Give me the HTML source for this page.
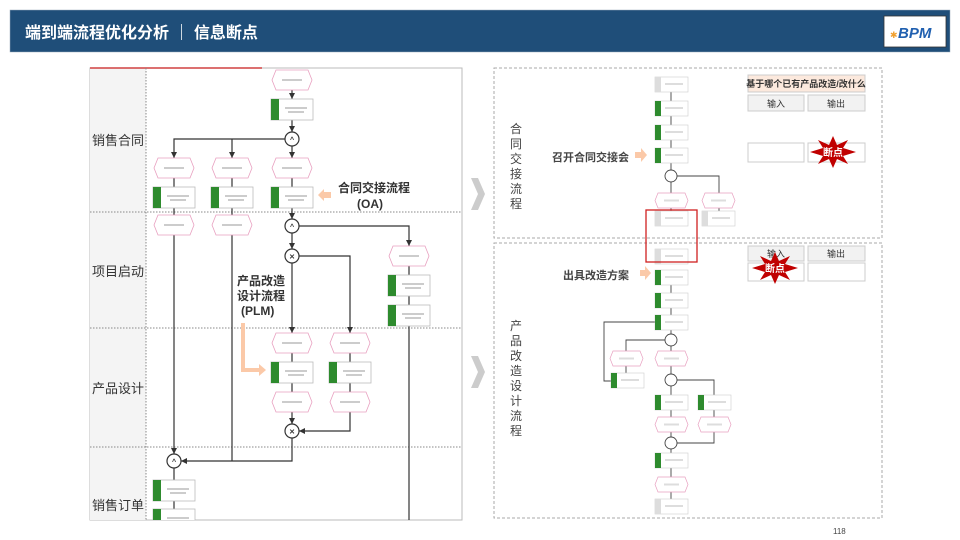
<!DOCTYPE html>
<html><head><meta charset="utf-8"><style>
body{margin:0;background:#fff;}
svg{display:block;font-family:"Liberation Sans","Noto Sans CJK SC",sans-serif;}
</style></head><body>
<svg width="960" height="540" viewBox="0 0 960 540" xmlns="http://www.w3.org/2000/svg">
<defs>
<marker id="a" markerWidth="6" markerHeight="6" refX="5" refY="3" orient="auto"><path d="M0,0.5 L5,3 L0,5.5z" fill="#333"/></marker>
<clipPath id="lc"><rect x="90" y="68" width="372" height="452"/></clipPath>
<g id="hx"><path d="M4,0 H36 L40,10 L36,20 H4 L0,10z" fill="#fff" stroke="#e8a0c0" stroke-width="0.8"/><rect x="10" y="9" width="20" height="2" fill="#ccc"/></g>
<g id="tk"><rect x="0" y="0" width="42" height="21" fill="#fff" stroke="#bbb" stroke-width="0.8"/><rect x="0" y="0" width="8" height="21" fill="#2e8b2e"/><rect x="14" y="8" width="22" height="2" fill="#ccc"/><rect x="17" y="12" width="16" height="2" fill="#ccc"/></g>
<g id="tk2"><rect x="0" y="0" width="33" height="15" fill="#fff" stroke="#ccc" stroke-width="0.6"/><rect x="0" y="0" width="6" height="15" fill="#2e8b2e"/><rect x="10" y="6" width="18" height="2" fill="#ddd"/></g>
<g id="tg"><rect x="0" y="0" width="33" height="15" fill="#fff" stroke="#ccc" stroke-width="0.6"/><rect x="0" y="0" width="6" height="15" fill="#ddd"/><rect x="10" y="6" width="18" height="2" fill="#ddd"/></g>
<g id="hs"><path d="M3,0 H30 L33,7.5 L30,15 H3 L0,7.5z" fill="#fff" stroke="#e8a0c0" stroke-width="0.7"/><rect x="9" y="6.5" width="15" height="2" fill="#ddd"/></g>
</defs>

<!-- header -->
<rect x="10" y="10" width="940" height="42" fill="#1f4e79" stroke="#9ab" stroke-width="0.5"/>
<text x="25" y="38" fill="#fff" font-size="16" font-weight="bold">端到端流程优化分析  ｜ 信息断点</text>
<rect x="884" y="16" width="62" height="31" fill="#fff" stroke="#333" stroke-width="0.8"/>
<text x="890" y="38" font-size="9" fill="#f0a030">✱</text>
<text x="898" y="38" font-size="15" font-weight="bold" font-style="italic" fill="#2060b0">BPM</text>

<!-- left diagram -->
<rect x="90" y="68" width="372" height="452" fill="#fff" stroke="#bbb"/>
<rect x="90" y="68" width="56" height="452" fill="#f4f4f4"/>
<line x1="90" y1="68" x2="262" y2="68" stroke="#d04040" stroke-width="1.5"/>
<line x1="146" y1="68" x2="146" y2="520" stroke="#888" stroke-dasharray="1.5,1.5"/>
<g stroke="#888" stroke-dasharray="1.5,1.5"><line x1="90" y1="212" x2="462" y2="212"/><line x1="90" y1="328" x2="462" y2="328"/><line x1="90" y1="447" x2="462" y2="447"/></g>
<g font-size="13" fill="#333"><text x="92" y="145">销售合同</text><text x="92" y="276">项目启动</text><text x="92" y="393">产品设计</text><text x="92" y="510">销售订单</text></g>

<g clip-path="url(#lc)">
<g stroke="#333" stroke-width="1.2" fill="none">
<line x1="292" y1="90" x2="292" y2="99" marker-end="url(#a)"/>
<line x1="292" y1="120" x2="292" y2="132" marker-end="url(#a)"/>
<path d="M285,139 H174 V158" marker-end="url(#a)"/>
<path d="M232,139 V158" marker-end="url(#a)"/>
<line x1="292" y1="146" x2="292" y2="158" marker-end="url(#a)"/>
<line x1="174" y1="178" x2="174" y2="187"/><line x1="232" y1="178" x2="232" y2="187"/><line x1="292" y1="178" x2="292" y2="187"/>
<line x1="174" y1="207" x2="174" y2="215"/><line x1="232" y1="207" x2="232" y2="215"/><line x1="292" y1="207" x2="292" y2="219" marker-end="url(#a)"/>
<path d="M299,226 H409 V246" marker-end="url(#a)"/>
<line x1="292" y1="233" x2="292" y2="249" marker-end="url(#a)"/>
<path d="M299,256 H350 V333" marker-end="url(#a)"/>
<line x1="292" y1="263" x2="292" y2="333" marker-end="url(#a)"/>
<line x1="409" y1="266" x2="409" y2="275"/><line x1="409" y1="295" x2="409" y2="305"/><line x1="409" y1="325" x2="409" y2="520"/>
<line x1="292" y1="353" x2="292" y2="362"/><line x1="350" y1="353" x2="350" y2="362"/>
<line x1="292" y1="383" x2="292" y2="392"/><line x1="350" y1="383" x2="350" y2="392"/>
<line x1="292" y1="412" x2="292" y2="424" marker-end="url(#a)"/>
<path d="M350,412 V431 H299" marker-end="url(#a)"/>
<path d="M292,438 V461 H181" marker-end="url(#a)"/>
<line x1="232" y1="235" x2="232" y2="461"/>
<line x1="174" y1="235" x2="174" y2="454" marker-end="url(#a)"/>
<line x1="174" y1="468" x2="174" y2="480"/><line x1="174" y1="500" x2="174" y2="509"/>
</g>
<use href="#hx" x="272" y="70"/><use href="#tk" x="271" y="99"/>
<use href="#hx" x="154" y="158"/><use href="#hx" x="212" y="158"/><use href="#hx" x="272" y="158"/>
<use href="#tk" x="153" y="187"/><use href="#tk" x="211" y="187"/><use href="#tk" x="271" y="187"/>
<use href="#hx" x="154" y="215"/><use href="#hx" x="212" y="215"/>
<use href="#hx" x="389" y="246"/><use href="#tk" x="388" y="275"/><use href="#tk" x="388" y="305"/>
<use href="#hx" x="272" y="333"/><use href="#hx" x="330" y="333"/>
<use href="#tk" x="271" y="362"/><use href="#tk" x="329" y="362"/>
<use href="#hx" x="272" y="392"/><use href="#hx" x="330" y="392"/>
<use href="#tk" x="153" y="480"/><use href="#tk" x="153" y="509"/>
</g>
<g fill="#fff" stroke="#333" stroke-width="1.2">
<circle cx="292" cy="139" r="7"/><circle cx="292" cy="226" r="7"/><circle cx="292" cy="256" r="7"/><circle cx="292" cy="431" r="7"/><circle cx="174" cy="461" r="7"/></g>
<g font-size="7" font-weight="bold" fill="#333" text-anchor="middle"><text x="292" y="142">^</text><text x="292" y="229">^</text><text x="292" y="259">✕</text><text x="292" y="434">✕</text><text x="174" y="464">^</text></g>
<path d="M318,195 L324,189 V192 H331 V198 H324 V201z" fill="#fbc9a8"/>
<text x="338" y="192" font-size="12" font-weight="bold" fill="#333">合同交接流程</text>
<text x="357" y="208" font-size="12" font-weight="bold" fill="#333">(OA)</text>
<text x="237" y="285" font-size="12" font-weight="bold" fill="#333">产品改造</text>
<text x="237" y="300" font-size="12" font-weight="bold" fill="#333">设计流程</text>
<text x="241" y="315" font-size="12" font-weight="bold" fill="#333">(PLM)</text>
<path d="M243,323 V370 H260" stroke="#fbc9a8" stroke-width="4" fill="none"/><path d="M259,364 L266,370 L259,376z" fill="#fbc9a8"/>

<!-- chevrons -->
<path d="M471,178 L478,178 L485,194 L478,210 L471,210 L478,194z" fill="#ccc"/>
<path d="M471,356 L478,356 L485,372 L478,388 L471,388 L478,372z" fill="#ccc"/>

<!-- right -->
<g fill="none" stroke="#aaa" stroke-dasharray="3,2"><rect x="494" y="68" width="388" height="170"/><rect x="494" y="243" width="388" height="275"/></g>
<g font-size="12" fill="#444" text-anchor="middle">
<text x="516" y="133">合</text><text x="516" y="148">同</text><text x="516" y="163">交</text><text x="516" y="178">接</text><text x="516" y="193">流</text><text x="516" y="208">程</text>
<text x="516" y="330">产</text><text x="516" y="345">品</text><text x="516" y="360">改</text><text x="516" y="375">造</text><text x="516" y="390">设</text><text x="516" y="405">计</text><text x="516" y="420">流</text><text x="516" y="435">程</text></g>
<text x="552" y="161" font-size="11" font-weight="bold" fill="#444">召开合同交接会</text>
<path d="M635,155 L635,152 H641 V148 L647,155 L641,162 V158 H635z" fill="#fbc9a8"/>
<text x="563" y="279" font-size="11" font-weight="bold" fill="#444">出具改造方案</text>
<path d="M640,273 L640,270 H645 V266 L651,273 L645,280 V276 H640z" fill="#fbc9a8"/>

<g stroke="#444" stroke-width="0.9" fill="none">
<line x1="671" y1="91" x2="671" y2="101"/><line x1="671" y1="115" x2="671" y2="125"/><line x1="671" y1="139" x2="671" y2="148"/><line x1="671" y1="162" x2="671" y2="170"/>
<path d="M677,176 H719 V193"/><line x1="671" y1="182" x2="671" y2="193"/>
<line x1="671" y1="203" x2="671" y2="211"/><line x1="719" y1="203" x2="719" y2="211"/>
<line x1="671" y1="284" x2="671" y2="293"/><line x1="671" y1="307" x2="671" y2="315"/><line x1="671" y1="330" x2="671" y2="334"/>
<path d="M665,340 H626 V351"/><line x1="671" y1="346" x2="671" y2="351"/>
<line x1="626" y1="366" x2="626" y2="373"/><path d="M611,381 H604 V322 H655"/>
<line x1="671" y1="366" x2="671" y2="374"/>
<path d="M677,380 H714 V395"/><line x1="671" y1="386" x2="671" y2="395"/>
<line x1="671" y1="410" x2="671" y2="417"/><line x1="714" y1="410" x2="714" y2="417"/>
<line x1="671" y1="432" x2="671" y2="437"/><path d="M714,432 V443 H677"/>
<line x1="671" y1="449" x2="671" y2="453"/><line x1="671" y1="468" x2="671" y2="477"/><line x1="671" y1="492" x2="671" y2="499"/>
</g>
<use href="#tg" x="655" y="77"/><use href="#tk2" x="655" y="101"/><use href="#tk2" x="655" y="125"/><use href="#tk2" x="655" y="148"/>
<use href="#hs" x="655" y="193"/><use href="#hs" x="702" y="193"/>
<use href="#tg" x="655" y="211"/><use href="#tg" x="702" y="211"/>
<use href="#tg" x="655" y="249"/>
<use href="#tk2" x="655" y="270"/><use href="#tk2" x="655" y="293"/><use href="#tk2" x="655" y="315"/>
<use href="#hs" x="610" y="351"/><use href="#hs" x="655" y="351"/>
<use href="#tk2" x="611" y="373"/>
<use href="#tk2" x="655" y="395"/><use href="#tk2" x="698" y="395"/>
<use href="#hs" x="655" y="417"/><use href="#hs" x="698" y="417"/>
<use href="#tk2" x="655" y="453"/><use href="#hs" x="655" y="477"/><use href="#tg" x="655" y="499"/>
<g fill="#fff" stroke="#444" stroke-width="0.9"><circle cx="671" cy="176" r="6"/><circle cx="671" cy="340" r="6"/><circle cx="671" cy="380" r="6"/><circle cx="671" cy="443" r="6"/></g>
<rect x="646" y="210" width="51" height="52" fill="none" stroke="#d02020" stroke-width="1.3"/>

<rect x="748" y="75" width="117" height="17" fill="#fce9dd" stroke="#ccc"/>
<text x="806" y="87" font-size="9" font-weight="bold" fill="#333" text-anchor="middle">基于哪个已有产品改造/改什么</text>
<g fill="#f2f2f2" stroke="#ccc"><rect x="748" y="95" width="56" height="16"/><rect x="808" y="95" width="57" height="16"/><rect x="748" y="246" width="56" height="15"/><rect x="808" y="246" width="57" height="15"/></g>
<g font-size="9" fill="#333" text-anchor="middle"><text x="776" y="107">输入</text><text x="836" y="107">输出</text><text x="776" y="257">输入</text><text x="836" y="257">输出</text></g>
<g fill="#fff" stroke="#ccc"><rect x="748" y="143" width="56" height="19"/><rect x="808" y="143" width="57" height="19"/><rect x="748" y="263" width="56" height="18"/><rect x="808" y="263" width="57" height="18"/></g>
<polygon points="833,136 837,145 848,140 843,148 856,152 843,156 848,164 837,159 833,168 829,159 818,164 823,156 810,152 823,148 818,140 829,145" fill="#c00000"/>
<text x="833" y="156" font-size="10" font-weight="bold" fill="#fff" text-anchor="middle">断点</text>
<polygon points="775,252 779,261 790,256 785,264 798,268 785,272 790,280 779,275 775,284 771,275 760,280 765,272 752,268 765,264 760,256 771,261" fill="#c00000"/>
<text x="775" y="272" font-size="10" font-weight="bold" fill="#fff" text-anchor="middle">断点</text>

<text x="833" y="534" font-size="8" fill="#444">118</text>
</svg>
</body></html>
